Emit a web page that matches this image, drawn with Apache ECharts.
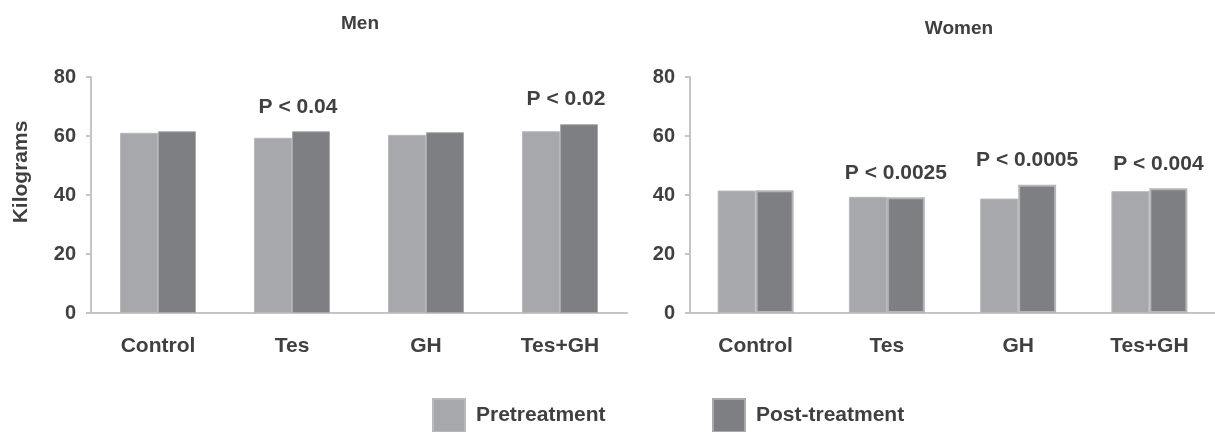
<!DOCTYPE html>
<html><head><meta charset="utf-8">
<script src="https://cdn.jsdelivr.net/npm/echarts@6/dist/echarts.min.js"></script>
<style>html,body{margin:0;padding:0;background:#fff}#c{width:1215px;height:432px}</style>
</head><body><div id="c"></div>
<script>
const categories = ['Control', 'Tes', 'GH', 'Tes+GH'];
const yTicks = [0, 20, 40, 60, 80];
const menPre = [61.1, 59.4, 60.4, 61.6];
const menPost = [61.6, 61.6, 61.3, 64.0];
const womenPre = [41.5, 39.4, 38.8, 41.3];
const womenPost = [41.6, 39.2, 43.5, 42.3];
const menP = ['', 'P < 0.04', '', 'P < 0.02'];
const womenP = ['', 'P < 0.0025', 'P < 0.0005', 'P < 0.004'];
const panelTitles = ['Men', 'Women'];
const seriesNames = ['Pretreatment', 'Post-treatment'];
const yAxisTitle = 'Kilograms';

const txt = '#404040';
const preColor = '#a7a8ac';
const postColor = '#7e7f83';
const axisGray = '#c4c4c4';
const font = 'Liberation Sans, Arial, sans-serif';

const grids = [
  {left: 91, top: 77, width: 536, height: 236},
  {left: 690, top: 77, width: 536, height: 236}
];
function xAxis(i){return {gridIndex:i,type:'category',data:categories,
  axisLine:{lineStyle:{color:axisGray,width:2}},axisTick:{show:false},
  axisLabel:{color:txt,fontWeight:'bold',fontSize:21,fontFamily:font,margin:23}};}
function yAxis(i){return {gridIndex:i,type:'value',min:yTicks[0],max:yTicks[yTicks.length-1],interval:20,
  axisLine:{show:true,lineStyle:{color:axisGray,width:2}},
  axisTick:{show:true,length:5,lineStyle:{color:axisGray,width:2}},
  splitLine:{show:false},
  axisLabel:{color:txt,fontWeight:'bold',fontSize:20,fontFamily:font,margin:15}};}
function pLabelData(vals, labels){
  return vals.map((v,k)=>labels[k]?{value:v,label:{show:true,formatter:labels[k]}}:v);
}
function pLabel(dx){return {show:false,position:'top',distance:14,offset:[dx,0],color:txt,fontWeight:'bold',fontSize:21,fontFamily:font};}
const legendText = {color:txt,fontWeight:'bold',fontSize:21,fontFamily:font,padding:[0,0,0,6]};
const chart = echarts.init(document.getElementById('c'),null,{renderer:'canvas'});
chart.setOption({
  animation:false,
  title:[
    {text:panelTitles[0],left:355,top:9,textAlign:'center',textStyle:{color:txt,fontWeight:'bold',fontSize:19,fontFamily:font}},
    {text:panelTitles[1],left:954,top:14,textAlign:'center',textStyle:{color:txt,fontWeight:'bold',fontSize:19,fontFamily:font}}
  ],
  graphic:[{type:'text',x:21,y:172,rotation:Math.PI/2,
    style:{text:yAxisTitle,align:'center',verticalAlign:'middle',fill:txt,font:'bold 21px Liberation Sans, Arial, sans-serif'}}],
  legend:[
    {data:[seriesNames[0]],top:398,left:432,padding:0,itemWidth:32,itemHeight:33,icon:'rect',textStyle:legendText},
    {data:[seriesNames[1]],top:398,left:712,padding:0,itemWidth:32,itemHeight:33,icon:'rect',textStyle:legendText}
  ],
  grid:grids,
  xAxis:[xAxis(0),xAxis(1)],
  yAxis:[yAxis(0),yAxis(1)],
  series:[
    {name:seriesNames[0],type:'bar',xAxisIndex:0,yAxisIndex:0,data:menPre,barWidth:38,barGap:'0%',itemStyle:{color:preColor,borderColor:'#b8b9bc',borderWidth:1}},
    {name:seriesNames[1],type:'bar',xAxisIndex:0,yAxisIndex:0,data:pLabelData(menPost,menP),barWidth:38,barGap:'0%',label:pLabel(-13),itemStyle:{color:postColor,borderColor:'#a8a9ac',borderWidth:1}},
    {name:seriesNames[0],type:'bar',xAxisIndex:1,yAxisIndex:1,data:womenPre,barWidth:38,barGap:'0%',itemStyle:{color:preColor,borderColor:'#b8b9bc',borderWidth:1}},
    {name:seriesNames[1],type:'bar',xAxisIndex:1,yAxisIndex:1,data:pLabelData(womenPost,womenP),barWidth:38,barGap:'0%',label:pLabel(-10),itemStyle:{color:postColor,borderColor:'#b4b5b8',borderWidth:2}}
  ]
});
</script></body></html>
